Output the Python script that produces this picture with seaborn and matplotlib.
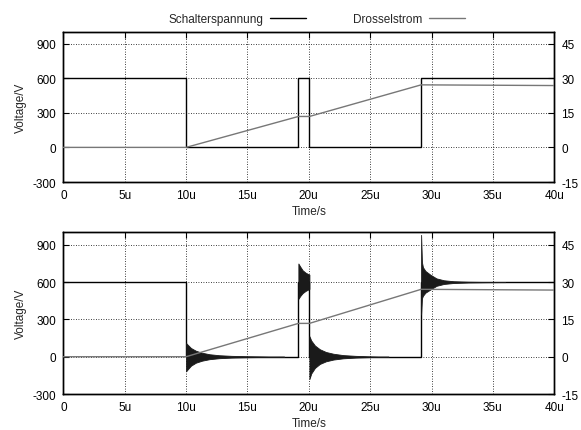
import numpy as np
import pandas as pd
import matplotlib
matplotlib.use("Agg")
import matplotlib.pyplot as plt
import seaborn as sns
from matplotlib.lines import Line2D

# ---------------- data (time in microseconds) ----------------
sw_time = [0, 10, 10, 19.15, 19.15, 20.05, 20.05, 29.15, 29.15, 40]
sw_volt = [600, 600, 0, 0, 600, 600, 0, 0, 600, 600]

cur_time = [0, 10, 19.15, 20.05, 29.15, 40]
cur_amp = [0, 0, 13.4, 13.4, 27.1, 26.8]

# ringing envelopes of the real (bottom) switch voltage
ring1_t = [10.0, 10.15, 10.4, 10.8, 11.3, 11.9, 12.7, 13.7, 15.0, 16.5, 18.0]
ring1_hi = [110, 95, 70, 48, 32, 20, 12, 7, 4, 2, 0]
ring1_lo = [-118, -100, -72, -48, -32, -20, -12, -7, -4, -2, 0]

ring2_t = [19.15, 19.3, 19.5, 19.75, 20.05]
ring2_hi = [750, 725, 695, 675, 660]
ring2_lo = [465, 488, 512, 530, 545]

ring3_t = [20.05, 20.2, 20.5, 20.9, 21.4, 22.0, 22.8, 23.8, 25.0, 26.5]
ring3_hi = [165, 130, 90, 60, 38, 24, 13, 7, 3, 0]
ring3_lo = [-180, -135, -90, -58, -37, -23, -13, -7, -3, 0]

ring4_t = [29.15, 29.22, 29.3, 29.5, 29.9, 30.4, 31.0, 31.8, 33.0, 34.5, 36.0]
ring4_hi = [980, 760, 720, 690, 660, 630, 615, 607, 603, 601, 600]
ring4_lo = [340, 470, 490, 515, 540, 570, 585, 593, 597, 599, 600]

x_ticks = [0, 5, 10, 15, 20, 25, 30, 35, 40]
x_labels = ["0", "5u", "10u", "15u", "20u", "25u", "30u", "35u", "40u"]
yv_ticks = [-300, 0, 300, 600, 900]
yi_ticks = [-15, 0, 15, 30, 45]

legend_labels = ["Schalterspannung", "Drosselstrom"]

# ---------------- style ----------------
sns.set_style("white")
plt.rcParams["font.family"] = ["Liberation Sans", "DejaVu Sans"]
plt.rcParams["font.size"] = 8.5
plt.rcParams["axes.unicode_minus"] = False

FS = 8.5
V_COLOR = "black"
I_COLOR = "#777777"

fig = plt.figure(figsize=(5.81, 4.31), dpi=100)
ax_top = fig.add_axes([0.109, 0.5754, 0.845, 0.348])
ax_bot = fig.add_axes([0.109, 0.0835, 0.845, 0.375])

sw_df = pd.DataFrame({"t": sw_time, "v": sw_volt})
cur_df = pd.DataFrame({"t": cur_time, "i": cur_amp})


def style_axes(ax, axr):
    ax.set_xlim(0, 40)
    ax.set_ylim(-300, 1000)
    axr.set_ylim(-15, 50)
    ax.set_xticks(x_ticks)
    ax.set_xticklabels(x_labels)
    ax.set_yticks(yv_ticks)
    axr.set_yticks(yi_ticks)
    ax.grid(True, color="black", linestyle=(0, (1, 2)), linewidth=0.6)
    ax.tick_params(axis="both", direction="in", length=4, width=0.8,
                   top=True, right=False, labelsize=FS, pad=5, colors="black")
    axr.tick_params(axis="y", direction="in", length=4, width=0.8,
                    labelsize=FS, pad=5, colors="black")
    for a in (ax, axr):
        for s in a.spines.values():
            s.set_visible(True)
            s.set_color("black")
            s.set_linewidth(1.0)
    ax.set_xlabel("Time/s", fontsize=FS, labelpad=3)
    ax.set_ylabel("Voltage/V", fontsize=FS, labelpad=4)
    axr.set_ylabel("")


for ax, real in ((ax_top, False), (ax_bot, True)):
    axr = ax.twinx()
    sns.lineplot(data=sw_df, x="t", y="v", ax=ax, color=V_COLOR, lw=1.0,
                 sort=False, estimator=None, zorder=3)
    if real:
        for t, hi, lo in ((ring1_t, ring1_hi, ring1_lo),
                          (ring2_t, ring2_hi, ring2_lo),
                          (ring3_t, ring3_hi, ring3_lo),
                          (ring4_t, ring4_hi, ring4_lo)):
            ax.fill_between(t, lo, hi, color="#1a1a1a", lw=0.6,
                            edgecolor="#1a1a1a", zorder=3)
    sns.lineplot(data=cur_df, x="t", y="i", ax=axr, color=I_COLOR, lw=1.0,
                 sort=False, estimator=None, zorder=4)
    style_axes(ax, axr)

handles = [Line2D([], [], color=V_COLOR, lw=1.0),
           Line2D([], [], color=I_COLOR, lw=1.0)]
fig.legend(handles, legend_labels, loc="center", bbox_to_anchor=(0.545, 0.953),
           ncol=2, frameon=False, markerfirst=False, handlelength=3.0,
           columnspacing=4.0, fontsize=FS, handletextpad=0.6)

fig.savefig("out.png", dpi=100)
